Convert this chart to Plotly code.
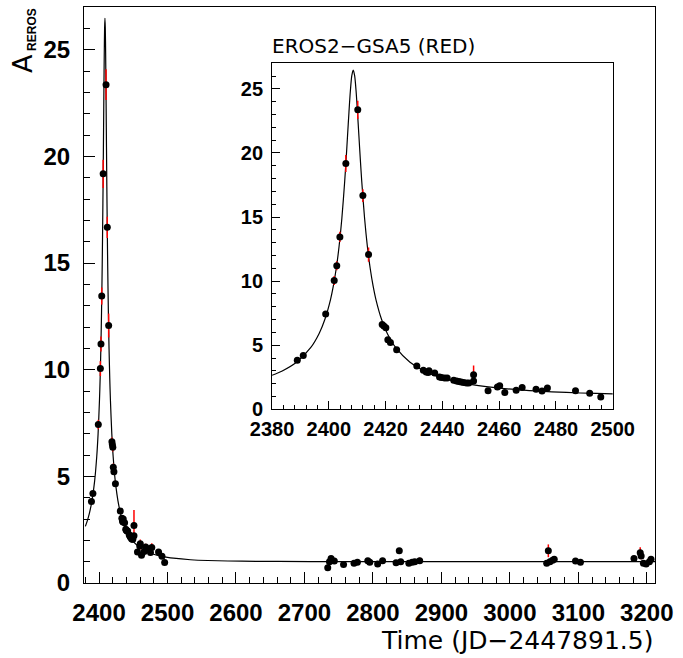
import plotly.graph_objects as go

# ---- observed points (time, amplification, error) ----
obs_t = [2388.9, 2391.0, 2398.9, 2401.9, 2402.8, 2403.9, 2406.0, 2410.2, 2412.0, 2414.0,
         2418.8, 2419.4, 2420.1, 2420.8, 2421.7, 2423.9, 2431.0, 2433.3, 2434.3, 2435.0,
         2435.3, 2437.3, 2439.0, 2439.7, 2440.8, 2441.7, 2444.0, 2445.0, 2445.8, 2446.6,
         2447.5, 2448.5, 2449.3, 2451.0, 2451.0, 2456.1, 2459.4, 2460.2, 2462.0, 2466.0,
         2468.1, 2473.0, 2475.1, 2477.0, 2486.9, 2491.9, 2495.8,
         2734.0, 2736.5, 2738.9, 2743.6, 2757.1, 2772.4, 2777.3, 2792.5, 2795.4, 2806.9,
         2814.1, 2833.8, 2838.5, 2840.6, 2852.5, 2857.3, 2861.1, 2868.3,
         3053.8, 3056.2, 3058.5, 3062.4, 3064.8, 3095.9, 3103.1,
         3181.3, 3190.4, 3191.8, 3195.1, 3199.0, 3203.8, 3206.2]
obs_a = [3.82, 4.20, 7.43, 10.05, 11.20, 13.45, 19.18, 23.36, 16.67, 12.07,
         6.62, 6.49, 6.36, 5.43, 5.22, 4.65, 3.37, 3.04, 2.90, 2.86,
         3.00, 2.83, 2.52, 2.47, 2.44, 2.44, 2.26, 2.20, 2.16, 2.13,
         2.08, 2.05, 2.05, 2.70, 2.21, 1.45, 1.74, 1.84, 1.30, 1.48,
         1.69, 1.56, 1.43, 1.66, 1.45, 1.25, 0.96,
         0.72, 1.00, 1.15, 1.03, 0.87, 0.92, 0.97, 1.04, 0.97, 0.89,
         1.04, 0.95, 1.51, 1.00, 0.92, 0.97, 1.00, 1.04,
         0.92, 1.51, 1.00, 1.07, 1.11, 1.03, 0.97,
         1.15, 1.42, 1.26, 0.92, 0.89, 1.00, 1.11]
obs_err = [0.12, 0.13, 0.22, 0.35, 0.35, 0.40, 0.66, 0.72, 0.50, 0.56,
           0.20, 0.20, 0.20, 0.17, 0.16, 0.14, 0.10, 0.12, 0.10, 0.10,
           0.15, 0.10, 0.09, 0.09, 0.12, 0.10, 0.08, 0.08, 0.08, 0.08,
           0.07, 0.07, 0.07, 0.72, 0.08, 0.12, 0.20, 0.20, 0.12, 0.15,
           0.15, 0.15, 0.15, 0.20, 0.12, 0.10, 0.08,
           0.10, 0.10, 0.10, 0.10, 0.08, 0.08, 0.08, 0.10, 0.08, 0.08,
           0.10, 0.08, 0.08, 0.08, 0.08, 0.08, 0.08, 0.15,
           0.10, 0.30, 0.12, 0.15, 0.12, 0.08, 0.08,
           0.08, 0.25, 0.15, 0.10, 0.08, 0.08, 0.10]

# ---- fitted light curve ----
fit_t = [2380.0, 2383.6, 2388.6, 2393.6, 2396.6, 2398.6, 2400.6, 2401.6, 2402.6, 2403.6,
         2404.6, 2405.6, 2406.1, 2406.6, 2407.1, 2407.6, 2408.1, 2408.6, 2409.1, 2409.6,
         2410.1, 2410.6, 2411.1, 2411.6, 2412.6, 2413.6, 2414.6, 2415.6, 2416.6, 2418.6,
         2420.6, 2423.6, 2428.6, 2433.6, 2438.6, 2448.6, 2458.6, 2468.6, 2478.6, 2488.6,
         2500.0, 2508.6, 2533.6, 2558.6, 2608.6, 2708.6, 2808.6, 3008.6, 3212.0]
fit_a = [2.653, 2.992, 3.672, 4.802, 5.915, 7.003, 8.562, 9.626, 10.962, 12.677,
         14.908, 17.795, 19.50, 21.334, 23.18, 24.847, 26.03, 26.47, 26.03, 24.847,
         23.18, 21.334, 19.50, 17.795, 14.908, 12.677, 10.962, 9.626, 8.562, 7.003,
         5.915, 4.802, 3.672, 2.992, 2.544, 1.998, 1.6865, 1.4913, 1.3617, 1.272,
         1.2007, 1.1616, 1.0905, 1.0538, 1.0219, 1.0054, 1.0019, 1.0004, 1.0001]

main_xticks = [2400, 2500, 2600, 2700, 2800, 2900, 3000, 3100, 3200]
inset_xticks = [2380, 2400, 2420, 2440, 2460, 2480, 2500]
yticks = [0, 5, 10, 15, 20, 25]

fig = go.Figure()
for xa, ya in (("x", "y"), ("x2", "y2")):
    fig.add_trace(go.Scatter(x=fit_t, y=fit_a, mode="lines", xaxis=xa, yaxis=ya,
                             line=dict(color="black", width=1.2, shape="spline", smoothing=0.8),
                             showlegend=False, hoverinfo="skip"))
    fig.add_trace(go.Scatter(x=obs_t, y=obs_a, mode="markers", xaxis=xa, yaxis=ya,
                             marker=dict(color="black", size=7),
                             error_y=dict(type="data", array=obs_err, color="red",
                                          thickness=1.5, width=0),
                             showlegend=False))

tick_font_main = dict(family="Liberation Sans, Arial, sans-serif", size=24, color="black", weight="bold")
tick_font_inset = dict(family="Liberation Sans, Arial, sans-serif", size=20, color="black", weight="bold")
common = dict(showline=True, mirror=True, linecolor="black", linewidth=1, showgrid=False,
              zeroline=False, ticks="inside", tickcolor="black", tickwidth=1)

fig.update_layout(
    width=683, height=658,
    margin=dict(l=84, r=19, t=6, b=75),
    paper_bgcolor="white", plot_bgcolor="white",
    xaxis=dict(domain=[0, 1], range=[2378, 3212], tickvals=main_xticks, ticklen=11,
               minor=dict(dtick=20, tick0=2400, ticklen=6, ticks="inside", tickcolor="black"),
               tickfont=tick_font_main, ticklabelstandoff=8, anchor="y", **common),
    yaxis=dict(domain=[0, 1], range=[0, 27], tickvals=yticks, ticklen=11,
               minor=dict(dtick=1, tick0=0, ticklen=6, ticks="inside", tickcolor="black"),
               tickfont=tick_font_main, ticklabelstandoff=8, anchor="x", **common),
    xaxis2=dict(domain=[0.3293, 0.9259], range=[2380, 2500], tickvals=inset_xticks, ticklen=8,
                minor=dict(dtick=4, tick0=2380, ticklen=4, ticks="inside", tickcolor="black"),
                tickfont=tick_font_inset, ticklabelstandoff=2, anchor="y2", **common),
    yaxis2=dict(domain=[0.3016, 0.9024], range=[0, 27], tickvals=yticks, ticklen=8,
                minor=dict(dtick=1, tick0=0, ticklen=4, ticks="inside", tickcolor="black"),
                tickfont=tick_font_inset, ticklabelstandoff=4, anchor="x2", **common),
    annotations=[
        dict(text="EROS2\u2212GSA5 (RED)", xref="paper", yref="paper", x=0.3259, y=0.9324,
             xanchor="left", yanchor="middle", showarrow=False,
             font=dict(family="DejaVu Sans", size=20, color="black")),
        dict(text="Time (JD\u22122447891.5)", xref="paper", yref="paper", x=1.0, y=(583 - 641) / 577,
             xanchor="right", yanchor="middle", showarrow=False,
             font=dict(family="DejaVu Sans", size=25, color="black")),
        dict(text="A", xref="paper", yref="paper", x=(21.7 - 84) / 580, y=(583 - 62.5) / 577,
             xanchor="center", yanchor="middle", showarrow=False, textangle=-90,
             font=dict(family="DejaVu Sans", size=27, color="black")),
        dict(text="<b>REROS</b>", xref="paper", yref="paper", x=(31.3 - 84) / 580, y=(583 - 28.8) / 577,
             xanchor="center", yanchor="middle", showarrow=False, textangle=-90,
             font=dict(family="Liberation Sans, Arial, sans-serif", size=12, color="black")),
    ],
)

fig.write_html("out.html", config={"displayModeBar": False},
               post_script="document.body.style.margin='0';")
